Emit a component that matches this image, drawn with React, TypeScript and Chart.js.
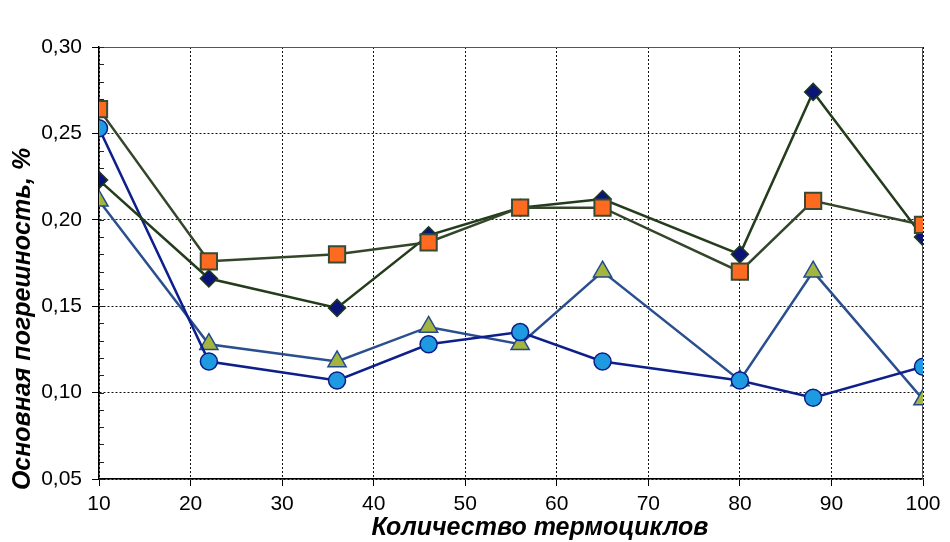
import React, { useEffect, useRef } from "react";
import { Chart, registerables } from "chart.js";

Chart.register(...registerables);

// ---- data ----
const cycles = [10, 22, 36, 46, 56, 65, 80, 88, 100];
const diamondValues = [0.223, 0.166, 0.149, 0.191, 0.207, 0.212, 0.18, 0.274, 0.19];
const squareValues = [0.264, 0.176, 0.18, 0.187, 0.207, 0.207, 0.17, 0.211, 0.197];
const triangleValues = [0.211, 0.128, 0.118, 0.138, 0.128, 0.17, 0.107, 0.17, 0.096];
const circleValues = [0.253, 0.118, 0.107, 0.128, 0.135, 0.118, 0.107, 0.097, 0.115];

const xMin = 10;
const xMax = 100;
const xStep = 10;
const yMin = 0.05;
const yMax = 0.3;
const yStep = 0.05;
const yMinorStep = 0.01;

const xTitle = "Количество термоциклов";
const yTitle = "Основная погрешность, %";

const FONT = "'Liberation Sans', Arial, sans-serif";

const toPoints = (vals: number[]) => cycles.map((c, i) => ({ x: c, y: vals[i] }));

const decorPlugin = {
  id: "decor",
  beforeDatasetsDraw(chart: any) {
    const { ctx, chartArea: a, scales } = chart;
    const y = scales.y;
    ctx.save();
    // solid top and right frame
    ctx.strokeStyle = "#555";
    ctx.lineWidth = 1;
    ctx.setLineDash([]);
    ctx.beginPath();
    ctx.moveTo(a.left, Math.round(a.top) + 0.5);
    ctx.lineTo(a.right, Math.round(a.top) + 0.5);
    ctx.moveTo(Math.round(a.right) - 0.5, a.top);
    ctx.lineTo(Math.round(a.right) - 0.5, a.bottom);
    ctx.stroke();
    // minor ticks on y axis (inside)
    ctx.strokeStyle = "#222";
    ctx.beginPath();
    const n = Math.round((yMax - yMin) / yMinorStep);
    for (let i = 0; i <= n; i++) {
      const v = yMin + i * yMinorStep;
      const py = Math.round(y.getPixelForValue(v)) + 0.5;
      ctx.moveTo(a.left, py);
      ctx.lineTo(a.left + 5, py);
    }
    ctx.stroke();
    ctx.restore();
  },
  afterDraw(chart: any) {
    const { ctx, chartArea: a } = chart;
    ctx.save();
    ctx.fillStyle = "#000";
    ctx.font = `italic bold 25px ${FONT}`;
    ctx.textAlign = "center";
    ctx.textBaseline = "alphabetic";
    ctx.fillText(xTitle, (a.left + a.right) / 2 + 29, a.bottom + 56);
    ctx.translate(30, (a.top + a.bottom) / 2 + 56);
    ctx.rotate(-Math.PI / 2);
    ctx.fillText(yTitle, 0, 0);
    ctx.restore();
  },
};

export default function App() {
  const ref = useRef<HTMLCanvasElement | null>(null);

  useEffect(() => {
    if (!ref.current) return;
    const chart = new Chart(ref.current, {
      type: "line",
      data: {
        datasets: [
          {
            label: "square",
            data: toPoints(squareValues),
            borderColor: "#34462a",
            borderWidth: 2.5,
            pointStyle: "rect",
            pointRadius: 11.5,
            pointBackgroundColor: "#ff6a21",
            pointBorderColor: "#3a4a32",
            pointBorderWidth: 2,
            order: 0,
          },
          {
            label: "diamond",
            data: toPoints(diamondValues),
            borderColor: "#233d1c",
            borderWidth: 2.5,
            pointStyle: "rectRot",
            pointRadius: 8.5,
            pointBackgroundColor: "#0b1478",
            pointBorderColor: "#1f3a1a",
            pointBorderWidth: 1.5,
            order: 1,
          },
          {
            label: "circle",
            data: toPoints(circleValues),
            borderColor: "#0e1f8c",
            borderWidth: 2.5,
            pointStyle: "circle",
            pointRadius: 8.5,
            pointBackgroundColor: "#1e9be0",
            pointBorderColor: "#0c1c86",
            pointBorderWidth: 1.5,
            order: 2,
          },
          {
            label: "triangle",
            data: toPoints(triangleValues),
            borderColor: "#2a4f8f",
            borderWidth: 2.5,
            pointStyle: "triangle",
            pointRadius: 10.5,
            pointBackgroundColor: "#a3b43f",
            pointBorderColor: "#234a8a",
            pointBorderWidth: 1.5,
            order: 3,
          },
        ],
      },
      options: {
        animation: false,
        responsive: false,
        devicePixelRatio: 1,
        layout: { padding: { top: 47, right: 27, bottom: 0, left: 0 } },
        plugins: {
          legend: { display: false },
          tooltip: { enabled: false },
        },
        scales: {
          x: {
            type: "linear",
            min: xMin,
            max: xMax,
            afterFit: (s: any) => {
              s.height = 63;
            },
            ticks: {
              stepSize: xStep,
              autoSkip: false,
              maxRotation: 0,
              color: "#000",
              padding: 6,
              font: { family: FONT, size: 21 },
            },
            grid: {
              color: "#111",
              lineWidth: 1,
              tickLength: 7,
              tickColor: "#000",
              tickBorderDash: [],
            },
            border: { display: true, color: "#000", width: 1.5, dash: [2, 2] },
          },
          y: {
            min: yMin,
            max: yMax,
            afterFit: (s: any) => {
              s.width = 99;
            },
            ticks: {
              stepSize: yStep,
              autoSkip: false,
              color: "#000",
              padding: 10,
              font: { family: FONT, size: 21 },
              callback: (v: any) => Number(v).toFixed(2).replace(".", ","),
            },
            grid: {
              color: "#111",
              lineWidth: 1,
              tickLength: 7,
              tickColor: "#000",
              tickBorderDash: [],
            },
            border: { display: true, color: "#000", width: 1.5, dash: [2, 2] },
          },
        },
      },
      plugins: [decorPlugin],
    });
    return () => chart.destroy();
  }, []);

  return (
    <div style={{ position: "absolute", left: 0, top: 0, width: 950, height: 542, background: "#fff" }}>
      <canvas ref={ref} width={950} height={542} />
    </div>
  );
}
